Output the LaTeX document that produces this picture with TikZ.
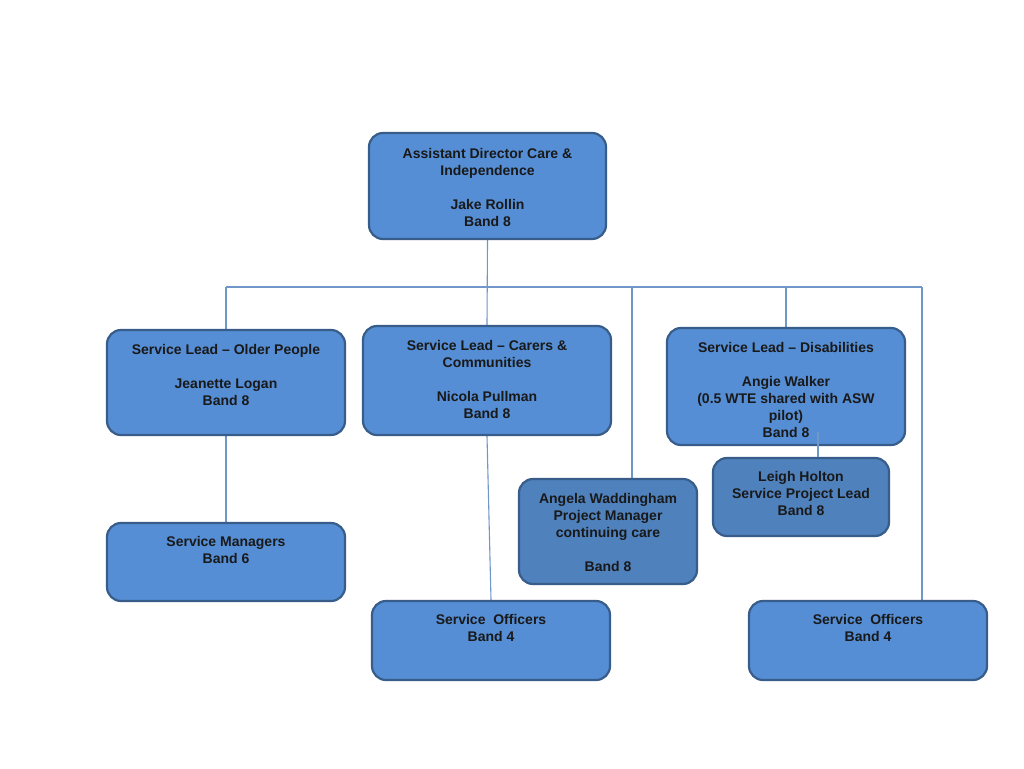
\documentclass[tikz,border=0pt]{standalone}
\usepackage{fontspec}
\setmainfont{Liberation Sans}
\usetikzlibrary{backgrounds}
\definecolor{boxfill}{HTML}{558ED5}
\definecolor{boxdark}{HTML}{4F81BD}
\definecolor{boxedge}{HTML}{385D8A}
\definecolor{conn}{HTML}{7096CA}
\begin{document}
\begin{tikzpicture}[x=1pt,y=-1pt,
  box/.style={draw=boxedge, line width=2.2pt, fill=boxfill, rounded corners=14pt, inner sep=0pt},
  darkbox/.style={box, fill=boxdark},
  txt/.style={anchor=north, inner sep=0pt, align=center, font=\fontsize{14}{17}\selectfont\bfseries, text=black!90},
  link/.style={draw=conn, line width=1.1pt}]
\useasboundingbox (0,0) rectangle (1024,768);
% boxes
\node[box, minimum width=237pt, minimum height=106pt] (top) at (487.5,186) {};
\node[box, minimum width=238pt, minimum height=105pt] (old) at (226,382.5) {};
\node[box, minimum width=248pt, minimum height=109pt] (car) at (487,380.5) {};
\node[box, minimum width=238pt, minimum height=117pt] (dis) at (786,386.5) {};
\node[darkbox, minimum width=176pt, minimum height=78pt] (leigh) at (801,497) {};
\node[darkbox, minimum width=178pt, minimum height=105pt] (ang) at (608,531.5) {};
\node[box, minimum width=238pt, minimum height=78pt] (mgr) at (226,562) {};
\node[box, minimum width=238pt, minimum height=79pt] (off1) at (491,640.5) {};
\node[box, minimum width=238pt, minimum height=79pt] (off2) at (868,640.5) {};
% bus coordinates
\coordinate (busL) at (226,287);
\coordinate (busR) at (922,287);
\coordinate (busA) at (632,287);
\coordinate (busD) at (786,287);
\coordinate (dl) at (818,432);
% connectors behind boxes
\begin{scope}[on background layer]
\fill[white] (0,0) rectangle (1024,768);
\draw[link] (busL) -- (busR);
\draw[link] (top.south) -- (car.north);
\draw[link] (busL) -- (old.north);
\draw[link] (busA) -- (busA |- ang.north);
\draw[link] (busD) -- (dis.north);
\draw[link] (busR) -- (busR |- off2.north);
\draw[link] (old.south) -- (mgr.north);
\draw[link] (car.south) -- (off1.north);
\end{scope}
% dis to leigh (drawn over the box)
\draw[link] (dl) -- (dl |- leigh.north);
% texts
\node[txt] (topT) at (487.5,148.5) {Assistant Director Care \&\\Independence\\[17pt]Jake Rollin\\Band 8};
\node[txt] (oldT) at (226,344.5) {Service Lead -- Older People\\[17pt]Jeanette Logan\\Band 8};
\node[txt] (carT) at (487,340.5) {Service Lead -- Carers \&\\Communities\\[17pt]Nicola Pullman\\Band 8};
\node[txt] (disT) at (786,342.5) {Service Lead -- Disabilities\\[17pt]Angie Walker\\(0.5 WTE shared with ASW\\pilot)\\Band 8};
\node[txt] (leighT) at (801,471.5) {Leigh Holton\\Service Project Lead\\Band 8};
\node[txt] (angT) at (608,493.5) {Angela Waddingham\\Project Manager\\continuing care\\[17pt]Band 8};
\node[txt] (mgrT) at (226,536.5) {Service Managers\\Band 6};
\node[txt] (off1T) at (491,614.5) {Service\ \ Officers\\Band 4};
\node[txt] (off2T) at (868,614.5) {Service\ \ Officers\\Band 4};
\end{tikzpicture}
\end{document}
